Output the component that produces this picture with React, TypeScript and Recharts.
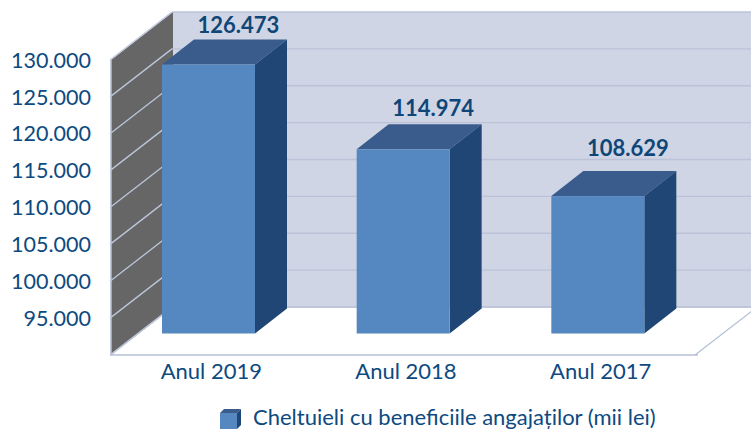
import React from "react";
import { BarChart, Bar, XAxis, YAxis, CartesianGrid, ReferenceArea, Legend, LabelList } from "recharts";

const categories = ["Anul 2019", "Anul 2018", "Anul 2017"];
const values = [126473, 114974, 108629];
const yTicks = [95000, 100000, 105000, 110000, 115000, 120000, 125000, 130000];
const seriesName = "Cheltuieli cu beneficiile angajaților (mii lei)";
const labels = ["126.473", "114.974", "108.629"];
const rows = categories.map((c, i) => ({ category: c, value: values[i], label: labels[i] }));

const FONT = "Lato, Carlito, sans-serif";
const TEXT = "#0d4a80";
const WALL_DX = 62, WALL_DY = 48, BAR_DX = 32, BAR_DY = 25, BAR_LIFT = 21.5;
const LABEL_NUDGE = [1, 0, -7];

const fmt = (v: number) => String(v).replace(/(\d)(\d{3})$/, "$1.$2");

const Walls = (p: any) => {
  const { x, y, width, height } = p;
  const b = y + height, r = x + width;
  return (
    <g>
      <polygon points={`${x + WALL_DX},${y - WALL_DY} ${r + WALL_DX},${y - WALL_DY} ${r + WALL_DX},${b - WALL_DY} ${x + WALL_DX},${b - WALL_DY}`} fill="#cfd5e4" />
      <polygon points={`${x},${y} ${x + WALL_DX},${y - WALL_DY} ${x + WALL_DX},${b - WALL_DY} ${x},${b}`} fill="#666666" />
      <line x1={x} y1={y} x2={x} y2={b} stroke="#b4bfd6" strokeWidth={1.5} />
      <line x1={x + WALL_DX} y1={b - WALL_DY} x2={r + WALL_DX} y2={b - WALL_DY} stroke="#bcc3d8" strokeWidth={1.5} />
      <line x1={x} y1={b} x2={x + WALL_DX} y2={b - WALL_DY} stroke="#c4cde0" strokeWidth={1} />
      <line x1={r} y1={b} x2={r + WALL_DX} y2={b - WALL_DY} stroke="#b4bfd6" strokeWidth={1.2} />
    </g>
  );
};

const gridLine = (p: any) => {
  const { x1, x2, y1, key } = p;
  return (
    <g key={key}>
      <line x1={x1} y1={y1} x2={x1 + WALL_DX} y2={y1 - WALL_DY} stroke="#bcc6dc" strokeWidth={1.3} />
      <line x1={x1 + WALL_DX} y1={y1 - WALL_DY} x2={x2 + WALL_DX} y2={y1 - WALL_DY} stroke="#bcc3d8" strokeWidth={1.3} />
    </g>
  );
};

const Bar3D = (p: any) => {
  const { x, y, width, height } = p;
  const t = y - BAR_LIFT, b = y + height - BAR_LIFT, r = x + width;
  return (
    <g>
      <polygon points={`${x},${t} ${x + BAR_DX},${t - BAR_DY} ${r + BAR_DX},${t - BAR_DY} ${r},${t}`} fill="#3a5c8c" />
      <polygon points={`${r},${t} ${r + BAR_DX},${t - BAR_DY} ${r + BAR_DX},${b - BAR_DY} ${r},${b}`} fill="#1f4674" />
      <rect x={x} y={t} width={width} height={b - t} fill="#5588c0" />
    </g>
  );
};

const BarLabel = (p: any) => {
  const { x, y, width, value, index } = p;
  return (
    <text x={x + width / 2 + 30} y={y - BAR_LIFT - 33 + (LABEL_NUDGE[index] || 0)} textAnchor="middle" fontFamily={FONT} fontWeight={700} fontSize={22} fill="#0f4678">
      {value}
    </text>
  );
};

const XTick = (p: any) => {
  const { x, y, payload } = p;
  return (
    <text x={x + 3} y={y + 16} textAnchor="middle" fontFamily={FONT} fontSize={22} fill={TEXT}>
      {payload.value}
    </text>
  );
};

const LegendContent = () => (
  <div style={{ display: "flex", alignItems: "center", height: 28, fontFamily: FONT, fontSize: 22, color: TEXT, whiteSpace: "nowrap" }}>
    <svg width={21} height={20} style={{ marginRight: 12, marginTop: 6 }}>
      <polygon points="0,4 4,0 21,0 17,4" fill="#3a5c8c" />
      <polygon points="17,4 21,0 21,16 17,20" fill="#1f4674" />
      <rect x={0} y={4} width={17} height={16} fill="#5588c0" />
    </svg>
    {seriesName}
  </div>
);

export default function App() {
  return (
    <div style={{ position: "absolute", left: 0, top: 0, width: 751, height: 430 }}>
      <BarChart width={751} height={430} data={rows} margin={{ top: 60, right: 53, bottom: 17, left: 0 }}>
        <ReferenceArea y1={90000} y2={130000} shape={<Walls />} ifOverflow="visible" zIndex={-200} />
        <CartesianGrid vertical={false} horizontal={gridLine as any} />
        <XAxis
          dataKey="category"
          height={30}
          padding={{ left: 1, right: 3 }}
          tick={<XTick />}
          tickLine={false}
          axisLine={{ stroke: "#b4bfd6", strokeWidth: 1.5 }}
        />
        <YAxis
          width={110}
          domain={[90000, 130000]}
          ticks={yTicks}
          interval={0}
          axisLine={false}
          tickLine={false}
          tickMargin={13}
          tickFormatter={fmt}
          tick={{ fontFamily: FONT, fontSize: 21.5, fill: TEXT }}
        />
        <Legend
          verticalAlign="bottom"
          height={28}
          content={<LegendContent />}
          wrapperStyle={{ position: "absolute", left: 220, width: 500, bottom: 0 }}
        />
        <Bar dataKey="value" name={seriesName} barSize={93} shape={<Bar3D />} isAnimationActive={false}>
          <LabelList dataKey="label" content={<BarLabel />} />
        </Bar>
      </BarChart>
    </div>
  );
}
